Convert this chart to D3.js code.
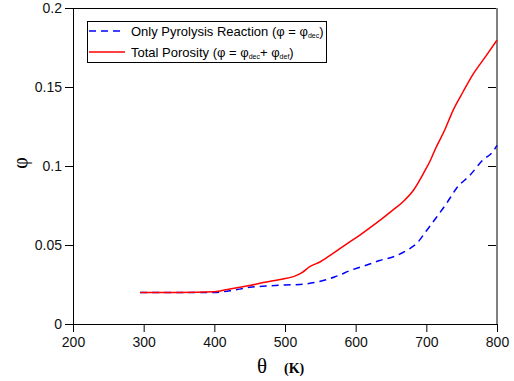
<!DOCTYPE html>
<html>
<head>
<meta charset="utf-8">
<script src="https://cdn.jsdelivr.net/npm/d3@7"></script>
<style>
  body { margin: 0; background: #fff; }
  svg { display: block; }
</style>
</head>
<body>
<div id="chart"></div>
<script>
// temperature (K) / porosity readings for each curve
const pyroTemps = [295, 350, 400, 422, 450, 479, 500, 521, 550, 570, 596, 616, 634, 656, 673, 687, 701, 715, 729, 743, 762, 780, 794, 800]
const pyroPhi = [0.02, 0.02, 0.02, 0.021, 0.0232, 0.0242, 0.0247, 0.025, 0.027, 0.0297, 0.0345, 0.0373, 0.0402, 0.043, 0.0468, 0.0513, 0.0595, 0.0679, 0.0766, 0.0861, 0.0943, 0.1038, 0.109, 0.113]

const totalTemps = [295, 350, 400, 422, 446, 469, 493, 512, 524, 535, 550, 568, 587, 606, 630, 653, 667, 682, 696, 706, 712, 726, 738, 752, 766, 785, 800]
const totalPhi = [0.02, 0.02, 0.0204, 0.0222, 0.024, 0.0262, 0.0282, 0.030, 0.0325, 0.0363, 0.0394, 0.0447, 0.0506, 0.0563, 0.0641, 0.0722, 0.0774, 0.0848, 0.0954, 0.1038, 0.110, 0.1228, 0.1354, 0.147, 0.158, 0.170, 0.1797]

const xTicks = [200, 300, 400, 500, 600, 700, 800]
const yTicks = [0, 0.05, 0.1, 0.15, 0.2]
const yTickLabels = ['0', '0.05', '0.1', '0.15', '0.2']

const W = 514
const H = 381
const MARGIN = { top: 8, right: 17, bottom: 57, left: 73 }
const innerW = W - MARGIN.left - MARGIN.right
const innerH = H - MARGIN.top - MARGIN.bottom

const svg = d3.select('#chart')
  .append('svg')
  .attr('width', W)
  .attr('height', H)

const g = svg.append('g')
  .attr('transform', `translate(${MARGIN.left},${MARGIN.top})`)

const x = d3.scaleLinear().domain([200, 800]).range([0, innerW])
const y = d3.scaleLinear().domain([0, 0.2]).range([innerH, 0])

// frame: top black line, right grey border
g.append('line')
  .attr('x1', 0).attr('x2', innerW).attr('y1', 0.5).attr('y2', 0.5)
  .attr('stroke', '#000')
g.append('line')
  .attr('x1', innerW).attr('x2', innerW).attr('y1', 0).attr('y2', innerH)
  .attr('stroke', '#808080').attr('stroke-width', 2)

// right side inner ticks
g.append('g')
  .attr('transform', `translate(${innerW - 1},0)`)
  .call(d3.axisLeft(y).tickValues(yTicks.slice(1, 4)).tickSize(8).tickFormat(''))
  .call(s => s.select('.domain').remove())

// =================== Axes =================
const xAxis = d3.axisBottom(x)
  .tickValues(xTicks)
  .tickFormat(d3.format('d'))
  .tickSize(8)
  .tickPadding(5)

g.append('g')
  .attr('transform', `translate(0,${innerH})`)
  .call(xAxis)

const yAxis = d3.axisLeft(y)
  .tickValues(yTicks)
  .tickFormat((d, i) => yTickLabels[i])
  .tickSize(8)
  .tickPadding(3)

g.append('g').call(yAxis)

g.selectAll('.tick text')
  .style('font-family', 'Liberation Sans, Arial, sans-serif')
  .style('font-size', '14px')
  .attr('fill', '#111')

// =================== Curves =================
const line = d3.line()
  .x(d => x(d[0]))
  .y(d => y(d[1]))
  .curve(d3.curveMonotoneX)

const pyroData = d3.zip(pyroTemps, pyroPhi)
const totalData = d3.zip(totalTemps, totalPhi)

g.append('path')
  .datum(pyroData)
  .attr('d', line)
  .attr('fill', 'none')
  .attr('stroke', '#0000ff')
  .attr('stroke-width', 1.5)
  .attr('stroke-dasharray', '7,5')

g.append('path')
  .datum(totalData)
  .attr('d', line)
  .attr('fill', 'none')
  .attr('stroke', '#ff0000')
  .attr('stroke-width', 1.5)

// =================== Legend =================
const legend = svg.append('g')
  .attr('transform', 'translate(87,21)')
  .style('font-family', 'Liberation Sans, Arial, sans-serif')
  .style('font-size', '13px')

legend.append('rect')
  .attr('x', 0.5).attr('y', 0.5)
  .attr('width', 239).attr('height', 41)
  .attr('fill', '#fff')
  .attr('stroke', '#000')

legend.append('line')
  .attr('x1', 2).attr('x2', 38).attr('y1', 10).attr('y2', 10)
  .attr('stroke', '#0000ff').attr('stroke-width', 1.5)
  .attr('stroke-dasharray', '7,5')
legend.append('line')
  .attr('x1', 2).attr('x2', 38).attr('y1', 31).attr('y2', 31)
  .attr('stroke', '#ff0000').attr('stroke-width', 1.5)

const t1 = legend.append('text').attr('x', 44).attr('y', 14.5)
t1.append('tspan').text('Only Pyrolysis Reaction ')
t1.append('tspan').text('(φ = φ')
t1.append('tspan').text('dec').attr('font-size', '7px').attr('dy', 2)
t1.append('tspan').text(')').attr('dy', -2)

const t2 = legend.append('text').attr('x', 44).attr('y', 35.5)
t2.append('tspan').text('Total Porosity ')
t2.append('tspan').text('(φ = φ')
t2.append('tspan').text('dec').attr('font-size', '7px').attr('dy', 2)
t2.append('tspan').text('+ φ').attr('dy', -2)
t2.append('tspan').text('def').attr('font-size', '7px').attr('dy', 2)
t2.append('tspan').text(')').attr('dy', -2)

// =================== Axis titles =================
svg.append('text')
  .attr('transform', 'translate(27,163) rotate(-90)')
  .attr('text-anchor', 'middle')
  .style('font-family', 'Liberation Serif, Times New Roman, serif')
  .style('font-size', '20px')
  .text('φ')

const xt = svg.append('text')
  .attr('x', 257).attr('y', 373)
  .style('font-family', 'Liberation Serif, Times New Roman, serif')
xt.append('tspan').text('θ').style('font-size', '21px')
xt.append('tspan').text('(K)').style('font-size', '14px').style('font-weight', 'bold').attr('dx', 17)
</script>
</body>
</html>
